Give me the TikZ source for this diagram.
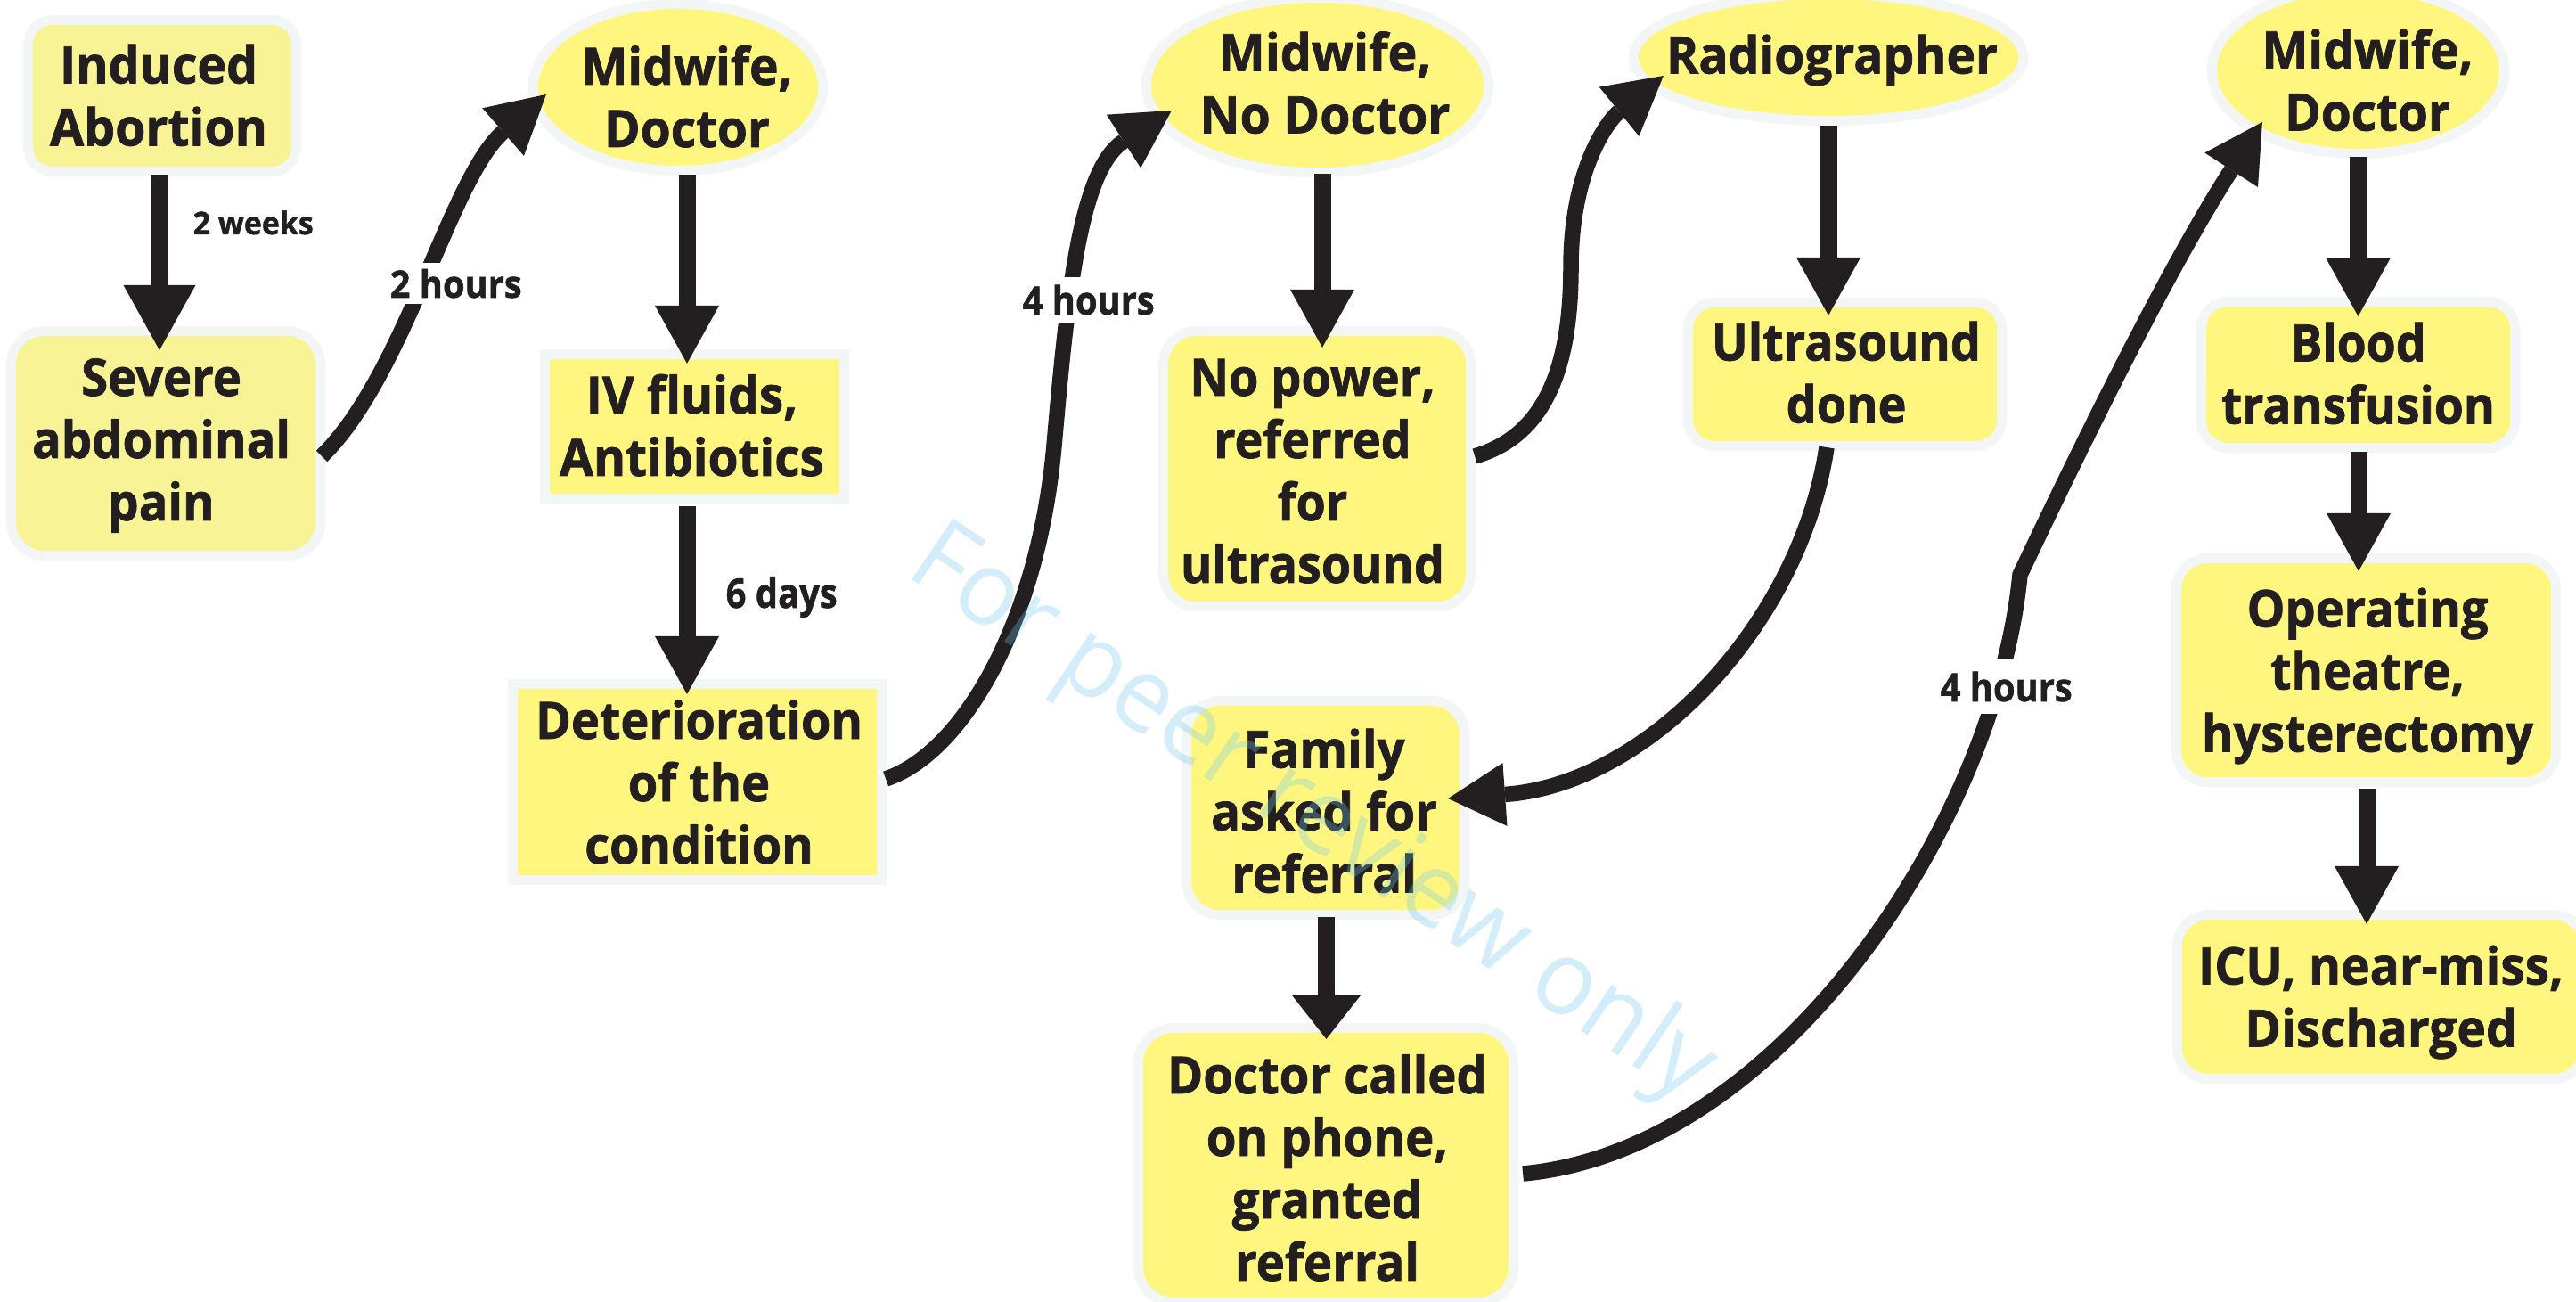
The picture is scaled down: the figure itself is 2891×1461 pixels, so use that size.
\documentclass[tikz,border=0pt]{standalone}
\usepackage{fontspec}
\setmainfont{Open Sans}[BoldFeatures={FakeBold=1.3}]
\usepackage{graphicx}
\usetikzlibrary{arrows.meta,shapes.geometric,calc}

\definecolor{ink}{RGB}{35,31,32}
\definecolor{boxfill}{RGB}{255,246,128}
\definecolor{palefill}{RGB}{248,244,150}
\definecolor{halocol}{RGB}{243,246,246}
\definecolor{wmblue}{RGB}{110,200,240}

\newlength\px
\setlength\px{0.01cm}

% centred lines of box text, set to a given width (in px), height kept
\newcommand\boxtxt[2]{\resizebox{#1\px}{\height}{\begin{tabular}{@{}c@{}}#2\end{tabular}}}
\newcommand\fitw[2]{\resizebox{#1\px}{\height}{#2}}

\begin{document}
\begin{tikzpicture}[x=0.01cm, y=-0.01cm,
  shapebase/.style={draw=none, inner sep=0pt, outer sep=0pt,
    preaction={draw=halocol, line width=0.22cm}},
  rbox/.style={shapebase, rectangle, fill=boxfill, rounded corners=#1},
  rbox/.default=0.3cm,
  sbox/.style={shapebase, rectangle, fill=boxfill},
  ell/.style={shapebase, ellipse, fill=boxfill},
  txt/.style={inner sep=0pt, text=ink, font=\bfseries\fontsize{16.4}{19.9}\selectfont},
  lab/.style={anchor=base west, inner xsep=0pt, inner ysep=0.07cm, fill=white, text=ink},
  sarr/.style={draw=ink, line width=0.19cm,
    arrows={-Triangle[length=0.65cm,width=0.72cm,line width=0pt]}},
  bigtip/.style={arrows={-Triangle[length=0.73cm,width=0.81cm,line width=0pt]}},
  shorttip/.style={arrows={-Triangle[length=0.49cm,width=0.77cm,line width=0pt]}},
  carr/.style={draw=ink, line width=0.175cm,
    arrows={-Triangle[length=0.64cm,width=0.71cm,line width=0pt]}},
]
\useasboundingbox (0,0) rectangle (2891,1461);
\clip (0,0) rectangle (2891,1461);
\fill[white] (0,0) rectangle (2891,1461);

% ---- shapes ----
\node[rbox=0.22cm, fill=palefill, minimum width=2.90cm, minimum height=1.59cm] (ind) at (182,107.5) {};
\node[rbox=0.32cm, fill=palefill, minimum width=3.36cm, minimum height=2.41cm] (sev) at (186,497.5) {};
\node[ell, minimum width=3.14cm, minimum height=1.76cm] (md1) at (761,98) {};
\node[sbox, minimum width=3.25cm, minimum height=1.51cm] (iv) at (779.5,478.5) {};
\node[sbox, minimum width=4.03cm, minimum height=2.09cm] (det) at (782.5,877.5) {};
\node[ell, minimum width=3.73cm, minimum height=1.85cm] (mnd) at (1478.5,95.5) {};
\node[rbox=0.32cm, minimum width=3.34cm, minimum height=2.98cm] (nop) at (1478,526) {};
\node[ell, minimum width=4.26cm, minimum height=1.31cm] (rad) at (2052,64.5) {};
\node[rbox=0.24cm, minimum width=3.41cm, minimum height=1.50cm] (usd) at (2070.5,420) {};
\node[rbox=0.32cm, minimum width=3.01cm, minimum height=2.29cm] (fam) at (1487.5,906.5) {};
\node[rbox=0.35cm, minimum width=4.10cm, minimum height=2.97cm] (doc) at (1488,1307.5) {};
\node[ell, minimum width=3.17cm, minimum height=1.75cm] (md2) at (2646.5,79.5) {};
\node[rbox=0.25cm, minimum width=3.41cm, minimum height=1.53cm] (blood) at (2646.5,420.5) {};
\node[rbox=0.30cm, minimum width=4.15cm, minimum height=2.40cm] (op) at (2655.5,752) {};
\node[rbox=0.30cm, minimum width=4.46cm, minimum height=1.73cm] (icu) at (2672,1118.5) {};

% ---- straight connectors ----
\draw[sarr, bigtip] ($(ind.south)+(-3,9)$) -- ($(sev.north)+(-7,16)$);
\draw[sarr] ($(md1.south)+(10,10)$) -- ($(iv.north)+(-8.5,5)$);
\draw[sarr] ($(iv.south)+(-8.5,14)$) -- ($(det.north)+(-11.5,6)$);
\draw[sarr] ($(mnd.south)+(5.5,7)$) -- ($(nop.north)+(6,13)$);
\draw[sarr] ($(rad.south)+(0,11)$) -- ($(usd.north)+(-18.5,9)$);
\draw[sarr, shorttip] ($(fam.south)+(1,8)$) -- ($(doc.north)+(0.5,7)$);
\draw[sarr] ($(md2.south)+(0,9)$) -- ($(blood.north)+(0,11)$);
\draw[sarr] ($(blood.south)+(0.5,10)$) -- ($(op.north)+(-8.5,9)$);
\draw[sarr] ($(op.south)+(0.5,13)$) -- ($(icu.north)+(-16,5)$);

% ---- curved connectors ----
\draw[carr] ($(sev.east)+(7,14.5)$) .. controls (455,420) and (505,200) .. ($(md1.west)+(9,8)$);
\draw[carr] ($(det.east)+(10,-3.5)$) .. controls (1080,845) and (1165,700) .. (1183,500)
  .. controls (1198,330) and (1212,190) .. ($(mnd.west)+(23,28.5)$);
\draw[carr] ($(nop.east)+(10,-14)$) .. controls (1730,490) and (1763,420) .. (1763,300)
  .. controls (1763,190) and (1805,135) .. ($(rad.west)+(28,20.5)$);
\draw[carr] ($(usd.south)+(-20.5,7)$) .. controls (2020,700) and (1850,880) .. ($(fam.east)+(-13,-10.5)$);
\draw[carr] ($(doc.east)+(16,9.5)$) .. controls (2000,1290) and (2240,920) .. (2267,645)
  .. controls (2350,470) and (2440,290) .. ($(md2.west)+(51,57.5)$);

% ---- time labels ----
\node[lab, font=\bfseries\fontsize{10}{12}\selectfont] (l1) at (216,263) {\fitw{135}{2 weeks}};
\node[lab, font=\bfseries\fontsize{12}{14}\selectfont] (l2) at (437,334) {\fitw{148}{2 hours}};
\node[lab, font=\bfseries\fontsize{13}{15}\selectfont] (l3) at (814,682) {\fitw{125}{6 days}};
\node[lab, font=\bfseries\fontsize{12.5}{15}\selectfont, inner ysep=0.09cm] (l4) at (1147,353) {\fitw{148}{4 hours}};
\node[lab, font=\bfseries\fontsize{12.5}{15}\selectfont, inner ysep=0.14cm] (l5) at (2177,787) {\fitw{148}{4 hours}};

% ---- box texts ----
\node[txt] (ind-t) at (178,114.5) {\boxtxt{244}{Induced\\Abortion}};
\node[txt] (sev-t) at (181,500) {\boxtxt{290}{Severe\\abdominal\\pain}};
\node[txt] (md1-t) at (771,116) {\boxtxt{237}{Midwife,\\Doctor}};
\node[txt] (iv-t) at (776.5,485) {\boxtxt{297}{IV fluids,\\Antibiotics}};
\node[txt] (det-t) at (784.5,885) {\boxtxt{367}{Deterioration\\of the\\condition}};
\node[txt] (mnd-t) at (1487,100.5) {\boxtxt{281}{Midwife,\\No Doctor}};
\node[txt] (nop-t) at (1473,535) {\boxtxt{296}{No power,\\referred\\for\\ultrasound}};
\node[txt] (rad-t) at (2056,68.5) {\boxtxt{372}{Radiographer}};
\node[txt] (usd-t) at (2072,425.5) {\boxtxt{302}{Ultrasound\\done}};
\node[txt] (fam-t) at (1486,917.5) {\boxtxt{254}{Family\\asked for\\referral}};
\node[txt] (doc-t) at (1489.5,1318) {\boxtxt{359}{Doctor called\\on phone,\\granted\\referral}};
\node[txt] (md2-t) at (2657,97.5) {\boxtxt{237}{Midwife,\\Doctor}};
\node[txt] (blood-t) at (2646.5,426.5) {\boxtxt{307}{Blood\\transfusion}};
\node[txt] (op-t) at (2657,759.5) {\boxtxt{372}{Operating\\theatre,\\hysterectomy}};
\node[txt] (icu-t) at (2672,1125.5) {\boxtxt{410}{ICU, near-miss,\\Discharged}};

% ---- watermark ----
\node[anchor=base west, rotate=-34, text=wmblue, opacity=0.3, inner sep=0pt,
      font=\fontsize{33}{40}\selectfont] (wm) at (1014,644) {\fitw{1062}{For peer review only}};
\end{tikzpicture}
\end{document}
